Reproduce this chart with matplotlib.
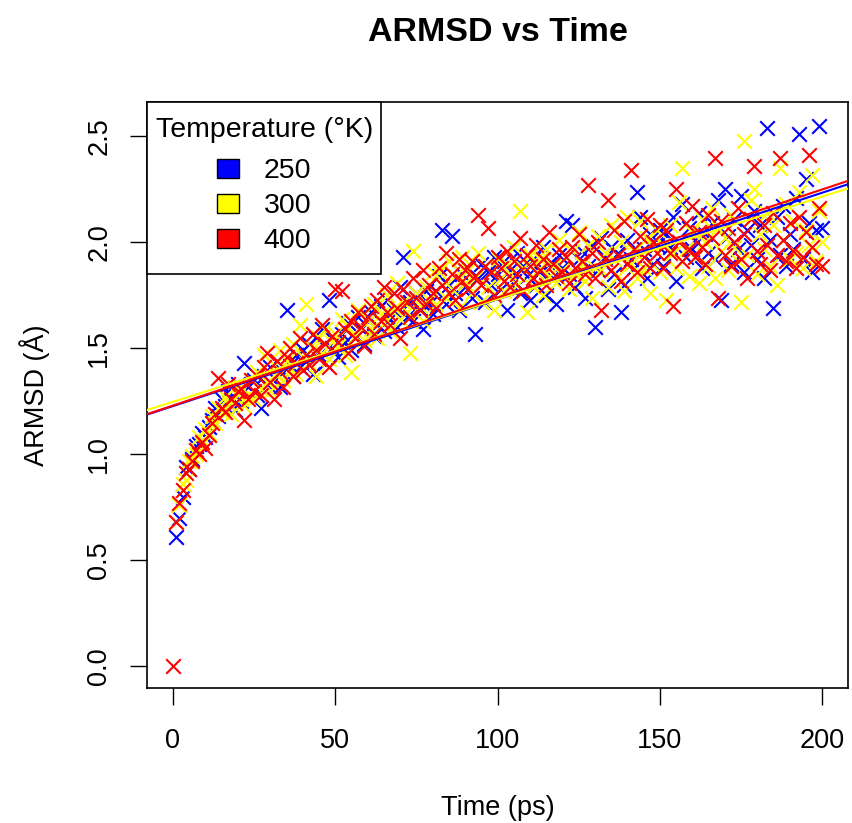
import numpy as np
import matplotlib
matplotlib.use('Agg')
import matplotlib.pyplot as plt
from matplotlib.patches import Patch
from matplotlib.offsetbox import DrawingArea

plt.rcParams['font.family'] = ['Liberation Sans', 'DejaVu Sans']

# ARMSD values, one value per ps
# 250 K, t = 1..200
armsd_250 = [
    0.61, 0.70, 0.80, 0.94, 0.93, 0.98, 1.04, 1.05, 1.10, 1.08,
    1.13, 1.16, 1.22, 1.18, 1.26, 1.23, 1.30, 1.27, 1.21, 1.33,
    1.25, 1.43, 1.32, 1.27, 1.35, 1.28, 1.22, 1.37, 1.33, 1.41,
    1.36, 1.44, 1.32, 1.39, 1.68, 1.42, 1.37, 1.47, 1.41, 1.49,
    1.44, 1.52, 1.38, 1.55, 1.47, 1.59, 1.43, 1.73, 1.50, 1.54,
    1.46, 1.57, 1.53, 1.62, 1.49, 1.55, 1.65, 1.59, 1.52, 1.63,
    1.67, 1.56, 1.61, 1.70, 1.58, 1.73, 1.64, 1.68, 1.60, 1.79,
    1.93, 1.65, 1.72, 1.63, 1.76, 1.69, 1.59, 1.77, 1.71, 1.66,
    1.77, 1.84, 2.06, 1.71, 1.80, 2.03, 1.76, 1.68, 1.85, 1.79,
    1.88, 1.74, 1.57, 1.83, 1.90, 1.72, 1.86, 1.80, 1.93, 1.85,
    1.78, 1.91, 1.68, 1.87, 1.82, 1.95, 1.76, 1.89, 1.84, 1.73,
    1.92, 1.80, 1.86, 1.98, 1.75, 1.90, 1.83, 1.71, 1.94, 1.88,
    2.10, 1.85, 2.08, 1.79, 1.92, 1.96, 1.74, 1.89, 1.99, 1.60,
    1.87, 2.02, 1.93, 1.78, 1.98, 1.85, 1.95, 1.67, 1.80, 2.01,
    1.92, 1.88, 2.24, 2.12, 1.97, 1.83, 2.04, 1.90, 1.99, 2.06,
    1.89, 2.04, 1.98, 2.12, 1.82, 2.00, 2.18, 1.93, 2.07, 1.97,
    2.01, 2.14, 1.88, 2.04, 1.95, 2.09, 1.92, 2.20, 1.73, 2.25,
    2.03, 1.90, 2.11, 1.97, 2.22, 1.86, 2.06, 1.99, 2.15, 1.92,
    2.08, 1.83, 2.54, 2.01, 1.69, 2.12, 1.94, 2.17, 1.89, 2.04,
    1.97, 2.21, 2.51, 1.92, 2.30, 2.09, 1.86, 2.06, 2.55, 2.07,
]

# 300 K, t = 1..200
armsd_300 = [
    0.68, 0.76, 0.86, 0.88, 0.97, 0.99, 1.00, 1.08, 1.05, 1.12,
    1.10, 1.18, 1.15, 1.22, 1.20, 1.27, 1.24, 1.19, 1.32, 1.28,
    1.32, 1.23, 1.28, 1.35, 1.26, 1.39, 1.31, 1.47, 1.34, 1.30,
    1.42, 1.37, 1.49, 1.35, 1.44, 1.40, 1.52, 1.38, 1.61, 1.46,
    1.71, 1.43, 1.50, 1.37, 1.55, 1.48, 1.59, 1.45, 1.53, 1.57,
    1.51, 1.64, 1.47, 1.60, 1.39, 1.56, 1.68, 1.96, 1.54, 1.63,
    1.59, 1.71, 1.55, 1.66, 1.62, 1.75, 1.58, 1.69, 1.81, 1.64,
    1.72, 1.67, 1.48, 1.96, 1.76, 1.70, 1.63, 1.79, 1.73, 1.86,
    1.71, 1.86, 1.80, 1.74, 1.91, 1.78, 1.84, 1.69, 1.93, 1.81,
    1.87, 1.76, 1.83, 1.95, 1.72, 1.89, 1.79, 1.86, 1.68, 1.92,
    1.83, 1.77, 1.90, 1.85, 1.98, 1.80, 2.15, 1.88, 1.67, 1.94,
    1.79, 1.86, 1.92, 1.75, 1.97, 1.84, 1.89, 1.81, 2.01, 1.87,
    1.93, 1.78, 1.96, 1.85, 2.05, 1.90, 1.82, 1.99, 1.74, 1.88,
    2.03, 1.87, 1.95, 1.79, 2.08, 1.92, 1.84, 2.00, 1.77, 2.12,
    1.90, 1.96, 1.83, 2.10, 1.88, 2.02, 1.76, 1.98, 2.06, 1.86,
    1.99, 1.73, 2.08, 1.95, 1.88, 2.19, 2.35, 1.97, 1.84, 2.05,
    1.93, 1.81, 2.11, 2.00, 1.89, 2.16, 1.83, 2.07, 1.96, 2.02,
    1.87, 2.13, 1.98, 1.91, 1.72, 2.48, 1.94, 2.20, 2.25, 1.85,
    2.04, 1.97, 2.14, 1.89, 2.08, 1.80, 2.35, 2.01, 2.18, 1.92,
    2.10, 1.95, 2.24, 1.88, 2.06, 1.99, 2.32, 1.91, 2.15, 2.00,
]

# 400 K, t = 0..200
armsd_400 = [
    0.00,
    0.68, 0.77, 0.83, 0.91, 0.93, 0.97, 1.02, 1.00, 1.06, 1.03,
    1.09, 1.15, 1.19, 1.36, 1.22, 1.20, 1.33, 1.26, 1.24, 1.30,
    1.31, 1.16, 1.26, 1.35, 1.30, 1.37, 1.28, 1.41, 1.48, 1.34,
    1.26, 1.44, 1.39, 1.32, 1.46, 1.50, 1.37, 1.43, 1.55, 1.40,
    1.47, 1.42, 1.57, 1.49, 1.45, 1.61, 1.52, 1.41, 1.56, 1.78,
    1.53, 1.77, 1.59, 1.48, 1.63, 1.55, 1.67, 1.60, 1.51, 1.65,
    1.70, 1.57, 1.73, 1.63, 1.79, 1.67, 1.61, 1.76, 1.69, 1.55,
    1.78, 1.72, 1.65, 1.83, 1.74, 1.68, 1.87, 1.71, 1.80, 1.76,
    1.69, 1.88, 1.80, 1.95, 1.76, 1.85, 1.73, 1.92, 1.82, 1.87,
    1.78, 1.91, 1.84, 2.13, 1.80, 1.89, 2.07, 1.86, 1.75, 1.93,
    1.88, 1.82, 1.96, 1.79, 1.91, 1.85, 2.02, 1.77, 1.94, 1.89,
    1.83, 1.99, 1.87, 1.92, 1.80, 2.05, 1.90, 1.84, 1.97, 1.86,
    1.93, 1.81, 1.98, 1.88, 2.04, 1.91, 1.85, 2.27, 1.95, 1.83,
    2.00, 1.68, 1.92, 2.20, 1.87, 2.06, 1.94, 1.82, 2.10, 1.90,
    2.34, 1.97, 1.86, 2.03, 1.93, 2.11, 1.88, 2.00, 1.95, 2.08,
    1.88, 2.06, 1.95, 1.70, 2.25, 2.00, 1.91, 2.09, 1.97, 2.17,
    1.93, 2.05, 1.98, 1.90, 2.13, 2.02, 2.40, 1.74, 2.10, 1.94,
    2.07, 1.89, 2.00, 2.16, 1.92, 2.04, 1.83, 2.11, 2.36, 1.96,
    1.90, 2.08, 1.99, 1.87, 2.14, 1.94, 2.40, 2.01, 1.91, 2.09,
    1.96, 1.88, 2.12, 1.93, 2.05, 2.41, 1.98, 1.90, 2.16, 1.89,
]

series = [
    ('250', armsd_250, 1, '#0000FF'),
    ('300', armsd_300, 1, '#FFFF00'),
    ('400', armsd_400, 0, '#FF0000'),
]

fig = plt.figure(figsize=(8.52, 8.23), dpi=100)
ax = fig.add_axes([147 / 852, 1 - 688 / 823, 701 / 852, 586 / 823])

fits = []
for label, vals, t0, col in series:
    y = np.array(vals)
    t = np.arange(t0, t0 + len(y))
    ax.scatter(t, y, marker='x', s=110, linewidths=1.5, color=col, zorder=2)
    fits.append((np.polyfit(t, y, 1), col))

# regression lines across the whole plot (like abline)
for (slope, icpt), col in fits:
    ax.axline((0, icpt), slope=slope, color=col, lw=1.5, zorder=3)

ax.set_xlim(-8, 208)
ax.set_ylim(-0.1024, 2.6624)
ax.set_xticks([0, 50, 100, 150, 200])
ax.set_yticks([0.0, 0.5, 1.0, 1.5, 2.0, 2.5])
ax.set_yticklabels(['0.0', '0.5', '1.0', '1.5', '2.0', '2.5'])
ax.tick_params(length=12, width=1.0, pad=17, labelsize=19.5, direction='out')
ax.tick_params(axis='y', labelrotation=90, pad=13)
for lab in ax.get_yticklabels():
    lab.set_va('center')
for sp in ax.spines.values():
    sp.set_linewidth(1.2)

ax.set_xlabel('Time (ps)', fontsize=19.5, va='center')
ax.xaxis.set_label_coords(0.5, -0.205)
ax.set_ylabel('ARMSD (Å)', fontsize=19.5, va='center')
ax.yaxis.set_label_coords(-0.16, 0.5)
ax.set_title('ARMSD vs Time', fontsize=24.5, fontweight='bold', y=1.118, pad=0, va='center')

handles = [Patch(facecolor=c, edgecolor='black', linewidth=1.0) for _, _, _, c in series]
leg = ax.legend(handles, [s[0] for s in series], title='Temperature (°K)',
                loc='upper left', bbox_to_anchor=(0, 1), borderaxespad=0,
                fontsize=20.5, title_fontsize=20.5, fancybox=False, framealpha=1,
                edgecolor='black', handlelength=0.75, handleheight=0.65,
                handletextpad=0.88, labelspacing=0.32, borderpad=0.3)
leg.get_frame().set_linewidth(1.2)
leg.set_zorder(5)
# extra vertical room in the legend box, as in the original
leg._legend_box.sep = 3.3
leg._legend_box._children.insert(0, DrawingArea(0, 1))
leg._legend_handle_box.pad = 8

fig.savefig('out.png', dpi=100)
